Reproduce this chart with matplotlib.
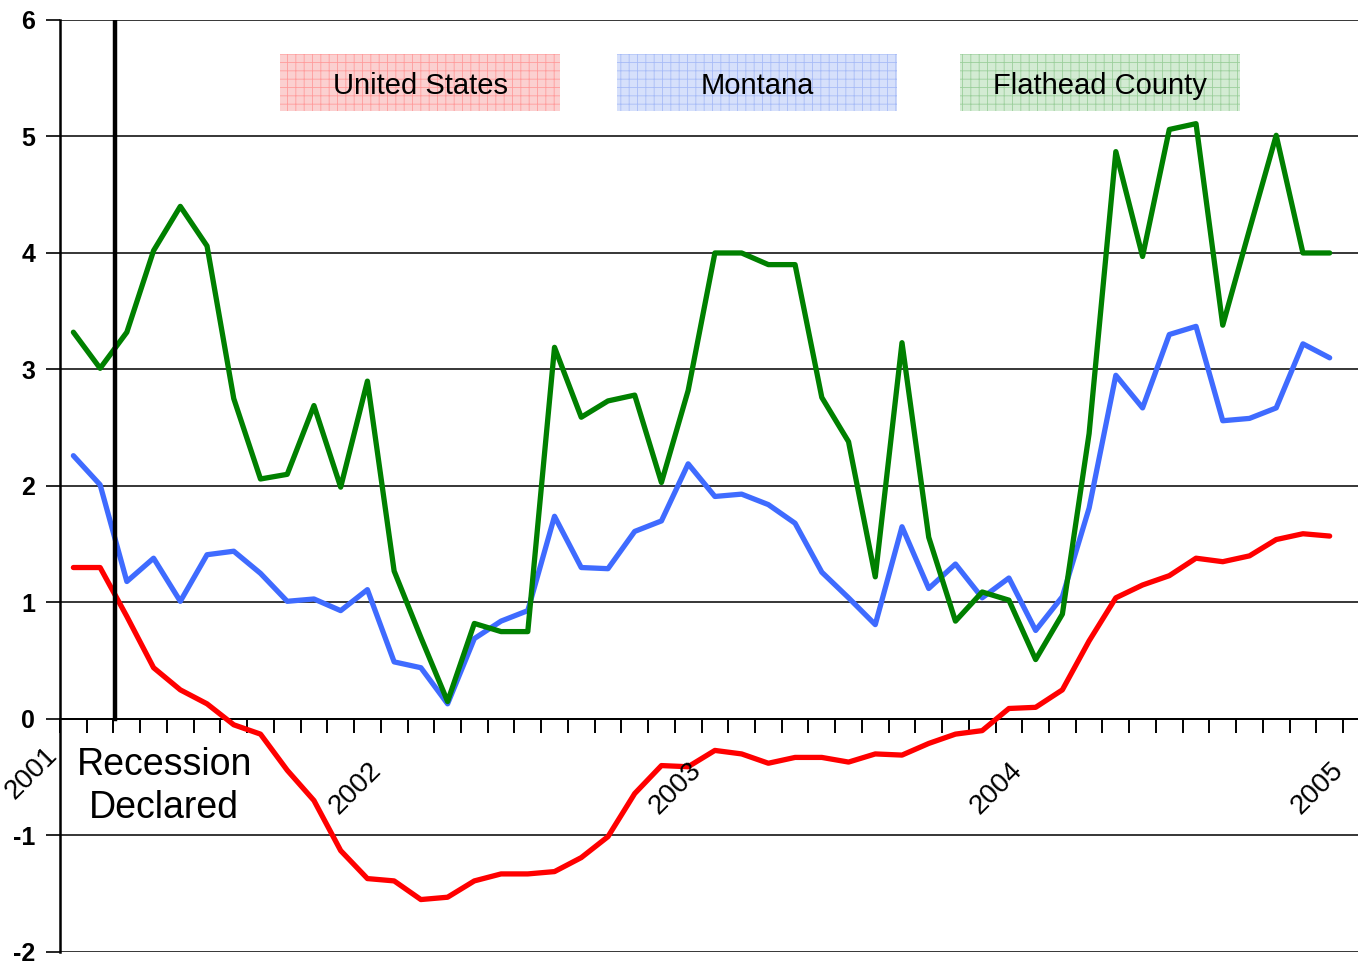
import matplotlib
matplotlib.use('Agg')
import matplotlib.pyplot as plt
import numpy as np
from matplotlib.patches import Rectangle

plt.rcParams['font.family'] = ['Liberation Sans', 'DejaVu Sans']
plt.rcParams['hatch.linewidth'] = 0.6
plt.rcParams['axes.unicode_minus'] = False

# monthly values, Jan 2001 - Dec 2004
us = [1.30, 1.30, 0.88, 0.44, 0.25, 0.13, -0.05, -0.13, -0.44, -0.70, -1.13, -1.37,
      -1.39, -1.55, -1.53, -1.39, -1.33, -1.33, -1.31, -1.19, -1.01, -0.64, -0.40, -0.41,
      -0.27, -0.30, -0.38, -0.33, -0.33, -0.37, -0.30, -0.31, -0.21, -0.13, -0.10, 0.09,
      0.10, 0.25, 0.67, 1.04, 1.15, 1.23, 1.38, 1.35, 1.40, 1.54, 1.59, 1.57]
montana = [2.26, 2.01, 1.18, 1.38, 1.01, 1.41, 1.44, 1.25, 1.01, 1.03, 0.93, 1.11,
           0.49, 0.44, 0.13, 0.69, 0.84, 0.93, 1.74, 1.30, 1.29, 1.61, 1.70, 2.19,
           1.91, 1.93, 1.84, 1.68, 1.26, 1.04, 0.81, 1.65, 1.12, 1.33, 1.04, 1.21,
           0.76, 1.05, 1.81, 2.95, 2.67, 3.30, 3.37, 2.56, 2.58, 2.67, 3.22, 3.10]
flathead = [3.32, 3.01, 3.32, 4.02, 4.40, 4.06, 2.75, 2.06, 2.10, 2.69, 1.99, 2.90,
            1.27, 0.70, 0.15, 0.82, 0.75, 0.75, 3.19, 2.59, 2.73, 2.78, 2.03, 2.82,
            4.00, 4.00, 3.90, 3.90, 2.76, 2.38, 1.22, 3.23, 1.56, 0.84, 1.09, 1.02,
            0.51, 0.90, 2.45, 4.87, 3.97, 5.06, 5.11, 3.38, 4.20, 5.01, 4.00, 4.00]
years = ['2001', '2002', '2003', '2004', '2005']
series_names = ['United States', 'Montana', 'Flathead County']

x = np.arange(len(us))

fig = plt.figure(figsize=(13.58, 9.65), dpi=100)
ax = fig.add_axes([0.0442, 0.0135, 0.9558, 0.9658])

for v in range(-2, 7):
    ax.axhline(v, color='black', lw=1.1, zorder=1)

ax.plot(x, us, color='#ff0000', lw=3.8, zorder=3, solid_capstyle='round')
ax.plot(x, montana, color='#3f6bff', lw=3.8, zorder=4, solid_capstyle='round')
ax.plot(x, flathead, color='#008000', lw=3.8, zorder=5, solid_capstyle='round')

# recession marker
ax.plot([1.55, 1.55], [0, 6], color='black', lw=3.2, zorder=6)
ax.text(3.4, -0.58, 'Recession\nDeclared', fontsize=27, ha='center', va='center',
        linespacing=1.25)

ax.set_xlim(-0.5, 48.06)
ax.set_ylim(-2, 6)

ax.spines['top'].set_visible(False)
ax.spines['right'].set_visible(False)
ax.spines['bottom'].set_position(('data', 0))
ax.spines['bottom'].set_linewidth(1.4)
ax.spines['left'].set_linewidth(1.8)

ax.set_xticks(np.arange(-0.5, 48, 1))
ax.tick_params(axis='x', direction='out', length=10, width=1.4, labelbottom=False)
ax.set_yticks(range(-2, 7))
ax.tick_params(axis='y', direction='out', length=10, width=1.2, pad=8)
for lab in ax.get_yticklabels():
    lab.set_fontsize(18)
    lab.set_fontweight('bold')

# year labels at year boundaries
for k, yr in enumerate(years):
    xpos = -0.5 + 12 * k
    if k == 0:
        ax.text(xpos + 0.1, -0.2, yr, fontsize=20, rotation=45, ha='right', va='top')
    else:
        ax.text(xpos + 0.2, -0.33, yr, fontsize=20, rotation=45, ha='right', va='top')

# legend boxes
box_cols = [('#fbd0d0', '#ff9c9c'), ('#d6e0fb', '#a8bcf7'), ('#d3ebd3', '#9ccf9c')]
box_x = [0.1695, 0.4291, 0.6934]
for bx, (fc, hc), name in zip(box_x, box_cols, series_names):
    r = Rectangle((bx, 0.9024), 0.2157, 0.0612, transform=ax.transAxes,
                  facecolor=fc, edgecolor=hc, hatch='++', lw=0, zorder=2)
    ax.add_patch(r)
    ax.text(bx + 0.2157 / 2, 0.9024 + 0.0612 / 2 - 0.004, name, transform=ax.transAxes,
            fontsize=21, ha='center', va='center', zorder=7)

plt.savefig('out.png', dpi=100, facecolor='white')
